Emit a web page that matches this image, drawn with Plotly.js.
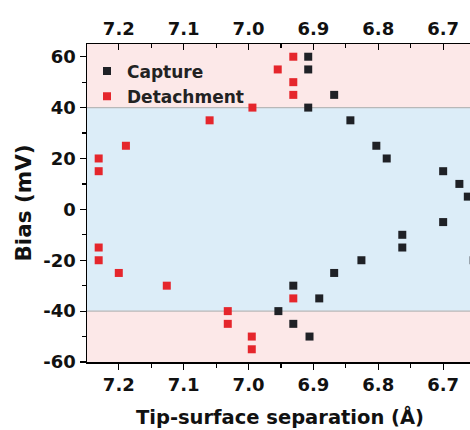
<!DOCTYPE html>
<html>
<head>
<meta charset="utf-8">
<script src="https://cdn.plot.ly/plotly-3.0.1.min.js"></script>
<style>
html,body{margin:0;padding:0;overflow:hidden;background:#fff;}
#chart{width:476px;height:430px;}
</style>
</head>
<body>
<div id="chart"></div>
<script>
// Capture (black) series
const captureX = [6.908, 6.908, 6.868, 6.908, 6.843, 6.803, 6.787, 6.700, 6.675, 6.662,
                  6.700, 6.763, 6.763, 6.826, 6.868, 6.931, 6.891, 6.954, 6.931, 6.906, 6.653];
const captureY = [60, 55, 45, 40, 35, 25, 20, 15, 10, 5,
                  -5, -10, -15, -20, -25, -30, -35, -40, -45, -50, -20];
// Detachment (red) series
const detachX = [6.931, 6.955, 6.931, 6.931, 6.994, 7.060, 7.189, 7.231, 7.231,
                 7.231, 7.231, 7.200, 7.126, 7.032, 7.032, 6.995, 6.995, 6.931];
const detachY = [60, 55, 50, 45, 40, 35, 25, 20, 15,
                 -15, -20, -25, -30, -40, -45, -50, -55, -35];
const yTicks = [-60, -40, -20, 0, 20, 40, 60];
const yTickLabels = ['-60', '-40', '-20', '0', '20', '40', '60'];
const xTicks = [7.2, 7.1, 7.0, 6.9, 6.8, 6.7];
const xTickLabels = ['7.2', '7.1', '7.0', '6.9', '6.8', '6.7'];
const xRange = [7.249, 6.654];
const yRange = [-60, 65];
const threshold = 40;

const fam = 'DejaVu Sans, Arial, sans-serif';
const tickFont = {family: fam, size: 18, weight: 'bold', color: '#111'};

const traces = [
  {x: captureX, y: captureY, name: 'Capture', type: 'scatter', mode: 'markers',
   marker: {symbol: 'square', size: 8, color: '#1f2126'}, cliponaxis: true},
  {x: detachX, y: detachY, name: 'Detachment', type: 'scatter', mode: 'markers',
   marker: {symbol: 'square', size: 8, color: '#e5262c'}, cliponaxis: true},
  {x: [xRange[0]], y: [0], xaxis: 'x2', type: 'scatter', mode: 'markers',
   marker: {opacity: 0}, showlegend: false, hoverinfo: 'skip'}
];

const layout = {
  width: 476, height: 430,
  margin: {l: 87, r: 3, t: 44, b: 68},
  paper_bgcolor: '#fff', plot_bgcolor: 'rgba(0,0,0,0)',
  font: {family: fam, size: 17, color: '#111'},
  showlegend: true,
  legend: {x: 0.0, y: 0.97, xanchor: 'left', yanchor: 'top', bgcolor: 'rgba(0,0,0,0)',
           font: {family: fam, size: 17, weight: 'bold', color: '#222'},
           itemwidth: 30, tracegroupgap: 0},
  xaxis: {range: xRange, tickvals: xTicks, ticktext: xTickLabels, ticks: 'outside', ticklen: 6,
          tickwidth: 1.2, tickcolor: '#000', showline: true, linecolor: '#000', linewidth: 1.5,
          showgrid: false, zeroline: false, tickfont: tickFont,
          minor: {dtick: 0.05, ticks: 'outside', ticklen: 4, tickcolor: '#000', tickwidth: 1.2, showgrid: false},
          title: {text: 'Tip-surface separation (Å)', standoff: 16,
                  font: {size: 19.5, weight: 'bold', family: fam, color: '#111'}}},
  xaxis2: {overlaying: 'x', side: 'top', range: xRange, tickvals: xTicks, ticktext: xTickLabels,
           ticks: 'inside', ticklen: 6, tickwidth: 1.2, tickcolor: '#000', showline: true,
           linecolor: '#000', linewidth: 1.5, showgrid: false, zeroline: false,
           tickfont: tickFont,
           minor: {dtick: 0.05, ticks: 'inside', ticklen: 4, tickcolor: '#000', tickwidth: 1.2, showgrid: false}},
  yaxis: {range: yRange, tickvals: yTicks, ticktext: yTickLabels, ticks: 'outside', ticklen: 6,
          tickwidth: 1.2, tickcolor: '#000',
          showline: true, linecolor: '#000', linewidth: 1.5, showgrid: false, zeroline: false,
          tickfont: tickFont,
          minor: {dtick: 10, ticks: 'outside', ticklen: 4, tickcolor: '#000', tickwidth: 1.2, showgrid: false},
          title: {text: 'Bias (mV)', standoff: 6,
                  font: {size: 21.5, weight: 'bold', family: fam, color: '#111'}}},
  shapes: [
    {type: 'rect', xref: 'paper', yref: 'y', x0: 0, x1: 1, y0: threshold, y1: yRange[1],
     fillcolor: '#fce8e8', line: {width: 0}, layer: 'below'},
    {type: 'rect', xref: 'paper', yref: 'y', x0: 0, x1: 1, y0: -threshold, y1: threshold,
     fillcolor: '#dcedf8', line: {width: 0}, layer: 'below'},
    {type: 'rect', xref: 'paper', yref: 'y', x0: 0, x1: 1, y0: yRange[0], y1: -threshold,
     fillcolor: '#fce8e8', line: {width: 0}, layer: 'below'},
    {type: 'line', xref: 'paper', yref: 'y', x0: 0, x1: 1, y0: threshold, y1: threshold,
     line: {color: '#b8b8b8', width: 1.2}, layer: 'below'},
    {type: 'line', xref: 'paper', yref: 'y', x0: 0, x1: 1, y0: -threshold, y1: -threshold,
     line: {color: '#b8b8b8', width: 1.2}, layer: 'below'}
  ]
};

Plotly.newPlot('chart', traces, layout, {displayModeBar: false, staticPlot: true});
</script>
</body>
</html>
